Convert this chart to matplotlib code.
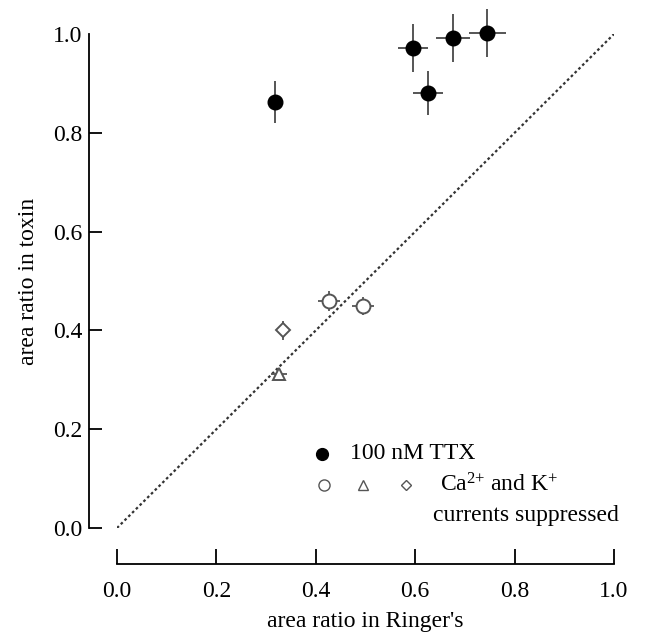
import matplotlib.pyplot as plt
import numpy as np

plt.rcParams['font.family'] = ['Liberation Serif', 'DejaVu Serif']
plt.rcParams['mathtext.fontset'] = 'custom'
plt.rcParams['mathtext.rm'] = 'Liberation Serif'
plt.rcParams['mathtext.it'] = 'Liberation Serif:italic'

# 100 nM TTX (filled circles)
ttx_x = [0.318, 0.596, 0.626, 0.676, 0.745]
ttx_y = [0.862, 0.972, 0.881, 0.992, 1.002]
ttx_xerr = [0.0, 0.030, 0.030, 0.034, 0.037]
ttx_yerr = [0.042, 0.048, 0.044, 0.049, 0.049]

# Ca2+ and K+ currents suppressed (open symbols)
circ_x = [0.427, 0.495]
circ_y = [0.460, 0.449]
circ_xerr = [0.022, 0.022]
circ_yerr = [0.020, 0.018]

tri_x = [0.326]
tri_y = [0.312]
tri_xerr = [0.016]
tri_yerr = [0.010]

dia_x = [0.334]
dia_y = [0.400]
dia_xerr = [0.008]
dia_yerr = [0.020]

ticks = [0.0, 0.2, 0.4, 0.6, 0.8, 1.0]
tick_labels = ['0.0', '0.2', '0.4', '0.6', '0.8', '1.0']

fig = plt.figure(figsize=(6.5, 6.37), dpi=100)
ax = fig.add_axes([117 / 650, 109 / 637, 497 / 650, 494 / 637])

# identity line
ax.plot([0, 1], [0, 1], color='#333333', lw=1.6, linestyle=(0, (1.2, 1.2)))

ecol = '#555555'
ax.errorbar(ttx_x, ttx_y, xerr=ttx_xerr, yerr=ttx_yerr, fmt='o', color='black',
            ms=10.5, ecolor=ecol, elinewidth=1.4, capsize=0, clip_on=False, zorder=3)
for xs, ys, xe, ye, m, s in [(circ_x, circ_y, circ_xerr, circ_yerr, 'o', 10),
                             (tri_x, tri_y, tri_xerr, tri_yerr, '^', 9),
                             (dia_x, dia_y, dia_xerr, dia_yerr, 'D', 7)]:
    ax.errorbar(xs, ys, xerr=xe, yerr=ye, fmt=m, mfc='white', mec=ecol, mew=1.4,
                ms=s, ecolor=ecol, elinewidth=1.3, capsize=0, zorder=3)

# legend drawn by hand
ax.plot([0.412], [0.150], 'o', color='black', ms=8.5, clip_on=False)
ax.text(0.469, 0.150, '100 nM TTX', fontsize=17, va='center', ha='left')
ax.plot([0.416], [0.087], 'o', mfc='white', mec=ecol, mew=1.0, ms=8)
ax.plot([0.495], [0.087], '^', mfc='white', mec=ecol, mew=1.0, ms=7.5)
ax.plot([0.581], [0.087], 'D', mfc='white', mec=ecol, mew=1.0, ms=5.5)
ax.text(0.65, 0.087, r'Ca$^{2{+}}$ and K$^{{+}}$', fontsize=17,
        va='center', ha='left')
ax.text(0.636, 0.026, 'currents suppressed', fontsize=17, va='center', ha='left')

ax.set_xlim(0, 1)
ax.set_ylim(0, 1)
ax.spines['top'].set_visible(False)
ax.spines['right'].set_visible(False)
ax.spines['left'].set_position(('outward', 20))
ax.spines['bottom'].set_position(('outward', 26))
ax.spines['left'].set_linewidth(1.3)
ax.spines['bottom'].set_linewidth(1.3)

ax.set_xticks(ticks)
ax.set_xticklabels(tick_labels)
ax.set_yticks(ticks)
ax.set_yticklabels(tick_labels)
ax.tick_params(axis='x', direction='in', length=11, width=1.3, pad=12, labelsize=17)
ax.tick_params(axis='y', direction='in', length=9, width=1.3, pad=5, labelsize=17)
ax.yaxis.get_major_ticks()[-1].tick1line.set_visible(False)

ax.set_xlabel("area ratio in Ringer's", fontsize=17, labelpad=7)
ax.set_ylabel('area ratio in toxin', fontsize=17, labelpad=10)

fig.savefig('out.png', dpi=100)
